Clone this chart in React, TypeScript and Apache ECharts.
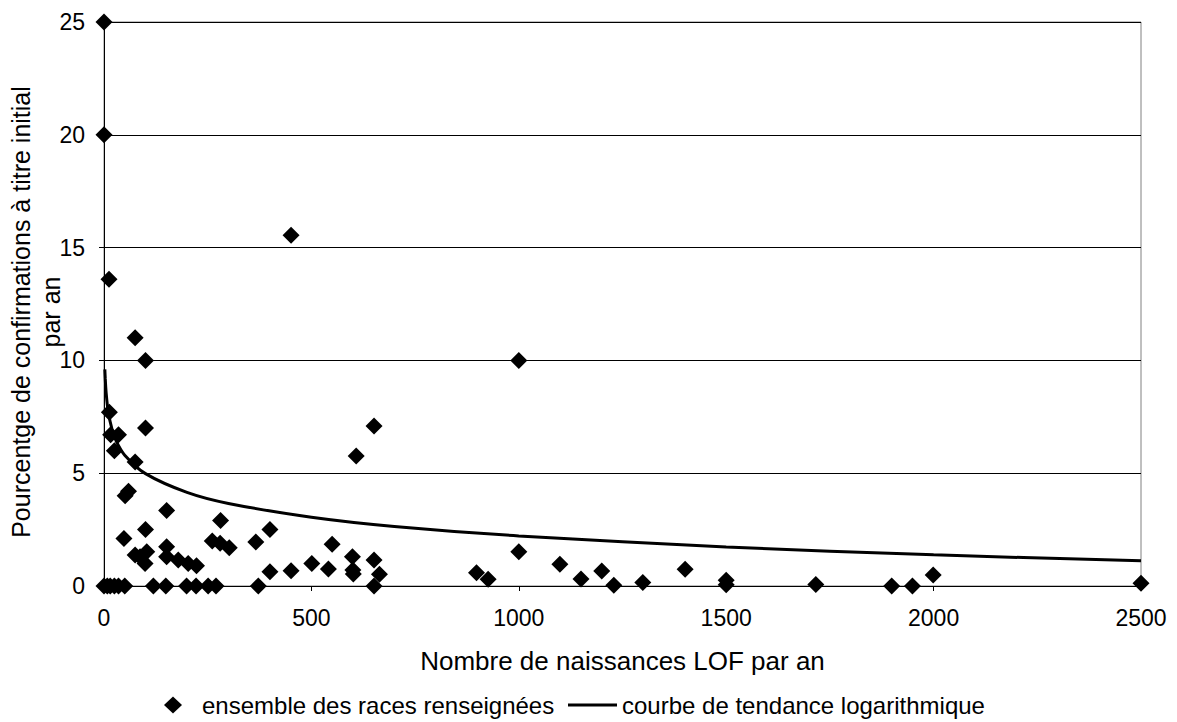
import React, { useEffect, useRef } from "react";
import * as echarts from "echarts";

const birthsLOF = [
  0, 0, 12, 13, 16, 35, 25, 75, 100, 100, 75, 51, 59, 151, 100, 48, 281, 400, 261, 280, 302, 366, 550, 501, 541, 400, 451,
  75, 87, 103, 99, 151, 151, 179, 203, 223,
  0, 8, 15, 25, 35, 50, 119, 149, 199, 222, 251, 270, 372,
  451, 651, 608, 599, 600, 601, 651, 664, 651, 898, 926, 1000, 1000, 1099, 1150, 1200, 1229, 1299, 1401, 1500, 1500, 1716,
  1899, 1949, 1999, 2500,
];
const confirmPct = [
  25, 20, 13.6, 7.7, 6.7, 6.7, 6.0, 11.0, 10.0, 7.0, 5.5, 4.0, 4.2, 3.35, 2.5, 2.1, 2.9, 2.5, 2.0, 1.9, 1.7, 1.95, 1.85, 1.0, 0.75, 0.63, 0.68,
  1.37, 1.3, 1.52, 1.0, 1.74, 1.3, 1.15, 1.0, 0.9,
  0, 0, 0, 0, 0, 0, 0, 0, 0, 0, 0, 0, 0,
  15.55, 7.09, 5.76, 1.3, 0.71, 0.53, 1.15, 0.52, 0, 0.59, 0.3, 1.52, 10.0, 0.96, 0.31, 0.66, 0.03, 0.15, 0.74, 0.25, 0.05, 0.07,
  0, 0, 0.49, 0.12,
];

const trendX = [2, 3, 5, 10, 20, 30, 50, 100, 200, 300, 500, 700, 1000, 1500, 2000, 2500];
const trendY = [9.6, 9.2, 8.6, 7.75, 6.9, 6.4, 5.8, 4.98, 4.15, 3.66, 3.05, 2.64, 2.22, 1.73, 1.38, 1.12];

const xTicks = { min: 0, max: 2500, interval: 500 };
const yTicks = { min: 0, max: 25, interval: 5 };

const scatterName = "ensemble des races renseignées";
const lineName = "courbe de tendance logarithmique";
const yName = "Pourcentge de confirmations à titre initial\npar an";
const xName = "Nombre de naissances LOF par an";

const FONT = "'Liberation Sans', Arial, sans-serif";

export default function App() {
  const ref = useRef<HTMLDivElement>(null);
  useEffect(() => {
    if (!ref.current) return;
    const chart = echarts.init(ref.current, undefined, { renderer: "svg" });
    const scatterData = birthsLOF.map((x, i) => [x, confirmPct[i]]);
    const lineData = trendX.map((x, i) => [x, trendY[i]]);
    chart.setOption({
      animation: false,
      backgroundColor: "#ffffff",
      textStyle: { fontFamily: FONT, color: "#000" },
      grid: {
        left: 104,
        right: 36,
        top: 22,
        bottom: 136,
        show: true,
        borderColor: "#808080",
        borderWidth: 1,
      },
      xAxis: {
        type: "value",
        ...xTicks,
        name: xName,
        nameLocation: "middle",
        nameGap: 62,
        nameTextStyle: { fontSize: 26, color: "#000", fontFamily: FONT },
        axisLine: { show: true, onZero: false, lineStyle: { color: "#000", width: 1 } },
        axisTick: { show: true, inside: false, length: 5, lineStyle: { color: "#000" } },
        axisLabel: { fontSize: 23, color: "#000", margin: 20, fontFamily: FONT, formatter: (v: number) => String(v) },
        splitLine: { show: false },
      },
      yAxis: {
        type: "value",
        ...yTicks,
        axisLine: { show: true, lineStyle: { color: "#000", width: 1 } },
        axisTick: { show: true, length: 5, lineStyle: { color: "#000" } },
        axisLabel: { fontSize: 23, color: "#000", margin: 19, fontFamily: FONT },
        splitLine: { show: true, lineStyle: { color: "#000", width: 1 } },
      },
      graphic: [
        {
          type: "text",
          x: 36,
          y: 312,
          rotation: Math.PI / 2,
          style: {
            text: yName,
            fontSize: 25,
            fontFamily: FONT,
            fill: "#000",
            align: "center",
            verticalAlign: "middle",
            lineHeight: 30,
          },
        },
      ],
      legend: [
        {
          data: [{ name: scatterName, icon: "diamond" }],
          left: 164,
          top: 693,
          padding: 0,
          itemWidth: 18,
          itemHeight: 17,
          textStyle: { fontSize: 24, color: "#000", fontFamily: FONT, padding: [0, 0, 0, 15] },
        },
        {
          data: [{ name: lineName, icon: "rect" }],
          left: 568,
          top: 693,
          padding: 0,
          itemWidth: 49,
          itemHeight: 3,
          textStyle: { fontSize: 24, color: "#000", fontFamily: FONT },
        },
      ],
      series: [
        {
          name: scatterName,
          type: "scatter",
          symbol: "diamond",
          symbolSize: 17,
          itemStyle: { color: "#000", opacity: 1 },
          data: scatterData,
          z: 3,
        },
        {
          name: lineName,
          type: "line",
          showSymbol: false,
          symbol: "none",
          smooth: 0.3,
          lineStyle: { color: "#000", width: 3 },
          itemStyle: { color: "#000" },
          data: lineData,
          z: 2,
        },
      ],
    });
    return () => chart.dispose();
  }, []);
  return <div ref={ref} style={{ width: 1177, height: 722, position: "absolute", left: 0, top: 0 }} />;
}
